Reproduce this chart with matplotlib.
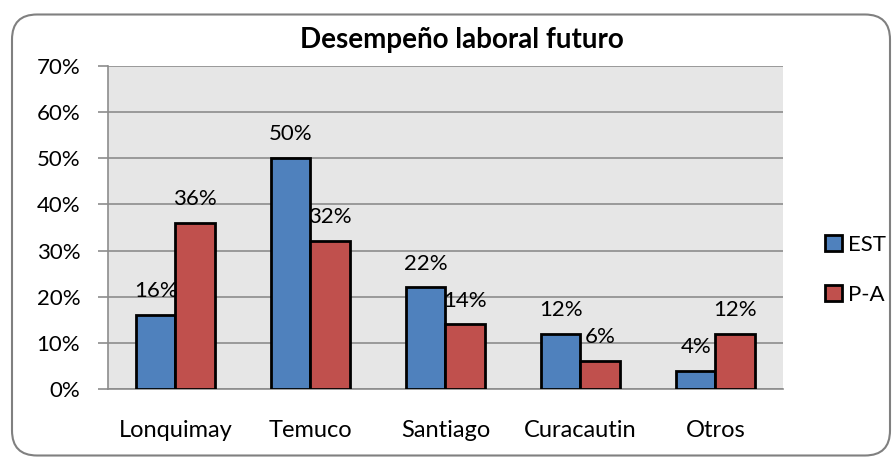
import numpy as np
import matplotlib
matplotlib.use("Agg")
import matplotlib.pyplot as plt
from matplotlib.patches import FancyBboxPatch, Patch

# datos
categorias = ["Lonquimay", "Temuco", "Santiago", "Curacautin", "Otros"]
est = [16, 50, 22, 12, 4]
pa = [36, 32, 14, 6, 12]
series = ["EST", "P-A"]
yticks = [0, 10, 20, 30, 40, 50, 60, 70]

plt.rcParams['font.family'] = ['Lato', 'DejaVu Sans']

azul = "#4F81BD"
rojo = "#C0504D"

fig = plt.figure(figsize=(8.94, 4.57), dpi=100)
ax = fig.add_axes([0.1208, 0.1488, 0.755, 0.7068])

# marco redondeado
marco = FancyBboxPatch((0.12, 0.015), 8.78, 4.41,
                       boxstyle="round,pad=0,rounding_size=0.25",
                       transform=fig.dpi_scale_trans, facecolor="none",
                       edgecolor="#808080", linewidth=1.5)
fig.patches.append(marco)

x = np.arange(len(categorias))
w = 0.29
b1 = ax.bar(x - w / 2, est, w, color=azul, edgecolor="black", linewidth=2, zorder=3)
b2 = ax.bar(x + w / 2, pa, w, color=rojo, edgecolor="black", linewidth=2, zorder=3)

for barras, vals in ((b1, est), (b2, pa)):
    for b, v in zip(barras, vals):
        ax.annotate(f"{v}%", (b.get_x() + b.get_width() / 2, v),
                    xytext=(0, 10), textcoords="offset points",
                    ha="center", va="bottom", fontsize=16)

ax.set_facecolor("#E6E6E6")
ax.set_xlim(-0.5, len(categorias) - 0.5)
ax.set_ylim(0, 70)
ax.set_yticks(yticks)
ax.set_yticklabels([f"{t}%" for t in yticks], fontsize=16)
ax.set_xticks(x)
ax.set_xticklabels(categorias, fontsize=17)
ax.grid(axis="y", color="#8C8C8C", linewidth=1.2, zorder=0)
ax.tick_params(axis="y", length=7, color="#8C8C8C", width=1.2, pad=13)
ax.tick_params(axis="x", length=0, pad=22)
for s in ("top", "right"):
    ax.spines[s].set_visible(False)
for s in ("left", "bottom"):
    ax.spines[s].set_color("#8C8C8C")
    ax.spines[s].set_linewidth(1.2)

fig.text(462 / 894, 1 - 40 / 457, "Desempeño laboral futuro", ha="center", va="center",
         fontsize=20, fontweight="bold")

handles = [Patch(facecolor=azul, edgecolor="black", linewidth=2),
           Patch(facecolor=rojo, edgecolor="black", linewidth=2)]
fig.legend(handles, series, loc="center left", bbox_to_anchor=(805 / 894, 1 - 270 / 457),
           frameon=False, fontsize=16, handlelength=0.75, handleheight=0.75,
           handletextpad=0.3, labelspacing=1.35)

fig.savefig("out.png", dpi=100)
